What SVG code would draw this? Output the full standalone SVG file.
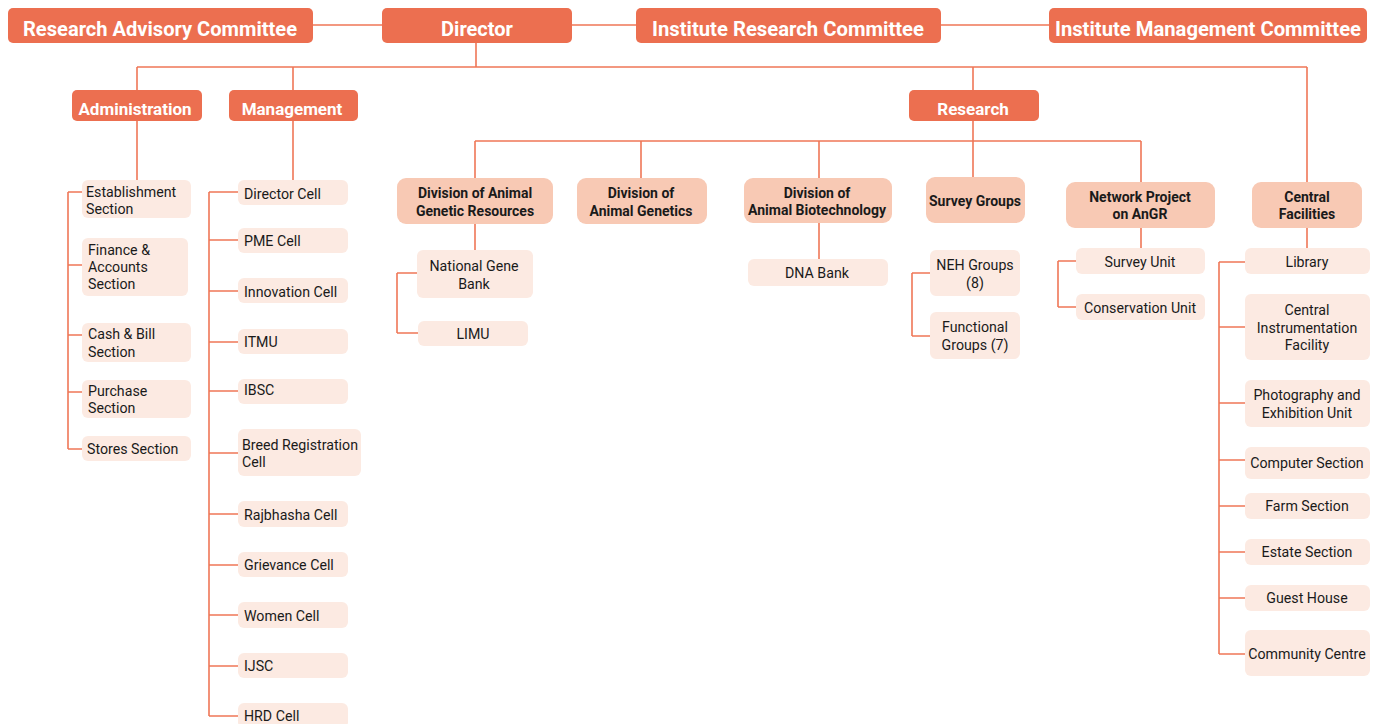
<svg xmlns="http://www.w3.org/2000/svg" width="1381" height="724" viewBox="0 0 1381 724">
<style>
.top rect{fill:#ec6f50}
.top text{fill:#fff;font-family:Roboto,"Liberation Sans",sans-serif;font-weight:bold;font-size:20px;text-anchor:middle}
.l2 rect{fill:#ec6f50}
.l2 text{fill:#fff;font-family:Roboto,"Liberation Sans",sans-serif;font-weight:bold;font-size:17px;text-anchor:middle}
.div rect{fill:#f8c9b4}
.div text{fill:#1a1a1a;font-family:Roboto,"Liberation Sans",sans-serif;font-weight:bold;font-size:14px;text-anchor:middle}
.leaf rect{fill:#fceae2}
.leaf text{fill:#1a1a1a;font-family:Roboto,"Liberation Sans",sans-serif;font-size:14.2px}
.c text{text-anchor:middle}
#connectors path{fill:none;stroke:#ef7757;stroke-width:1.6}
</style>
<g id="connectors">
<path d="M313 25H382M572 25H636M941 25H1049"/>
<path d="M476 43V67M137 67H1307M137 67V90M293 67V90M973 67V90M1307 67V182"/>
<path d="M137 121V180M68 192V449M68 192H82M68 265H82M68 335H82M68 392H82M68 449H82"/>
<path d="M293 121V180M209 192V716M209 192H238M209 240H238M209 291H238M209 342H238M209 391H238M209 453H238M209 514H238M209 565H238M209 615H238M209 666H238M209 716H238"/>
<path d="M973 121V178M475 141H1141M475 141V178M641 141V178M819 141V178M1141 141V182"/>
<path d="M475 224V250M397 273V333M397 273H417M397 333H418"/>
<path d="M819 223V259"/>
<path d="M912 273V336M912 273H930M912 336H930"/>
<path d="M1141 228V248M1058 261V307M1058 261H1076M1058 307H1076"/>
<path d="M1307 228V248M1219 262V654M1219 262H1245M1219 327H1245M1219 403H1245M1219 460H1245M1219 506H1245M1219 552H1245M1219 598H1245M1219 654H1245"/>
</g>

<g id="rac" class="top"><rect x="8" y="8" width="305" height="35" rx="5"/><text x="160" y="36" textLength="274" lengthAdjust="spacingAndGlyphs">Research Advisory Committee</text></g>
<g id="director" class="top"><rect x="382" y="8" width="190" height="35" rx="5"/><text x="477" y="36">Director</text></g>
<g id="irc" class="top"><rect x="636" y="8" width="305" height="35" rx="5"/><text x="788" y="36" textLength="272" lengthAdjust="spacingAndGlyphs">Institute Research Committee</text></g>
<g id="imc" class="top"><rect x="1049" y="8" width="318" height="35" rx="5"/><text x="1208" y="36" textLength="306" lengthAdjust="spacingAndGlyphs">Institute Management Committee</text></g>

<g id="administration" class="l2"><rect x="72" y="90" width="130" height="31" rx="5"/><text x="135" y="115">Administration</text></g>
<g id="management" class="l2"><rect x="229" y="90" width="129" height="31" rx="5"/><text x="292" y="115">Management</text></g>
<g id="research" class="l2"><rect x="909" y="90" width="130" height="31" rx="5"/><text x="973" y="115">Research</text></g>

<g id="establishment" class="leaf"><rect x="82" y="180" width="109" height="38" rx="6"/><text x="86" y="197">Establishment</text><text x="86" y="214">Section</text></g>
<g id="finance" class="leaf"><rect x="82" y="238" width="106" height="58" rx="6"/><text x="88" y="255">Finance &amp;</text><text x="88" y="272">Accounts</text><text x="88" y="289">Section</text></g>
<g id="cash" class="leaf"><rect x="82" y="323" width="109" height="39" rx="6"/><text x="88" y="339">Cash &amp; Bill</text><text x="88" y="357">Section</text></g>
<g id="purchase" class="leaf"><rect x="82" y="380" width="109" height="38" rx="6"/><text x="88" y="396">Purchase</text><text x="88" y="413">Section</text></g>
<g id="stores" class="leaf"><rect x="82" y="436" width="109" height="25" rx="6"/><text x="87" y="454">Stores Section</text></g>

<g id="director-cell" class="leaf"><rect x="238" y="180" width="110" height="25" rx="6"/><text x="244" y="199">Director Cell</text></g>
<g id="pme" class="leaf"><rect x="238" y="228" width="110" height="25" rx="6"/><text x="244" y="246">PME Cell</text></g>
<g id="innovation" class="leaf"><rect x="238" y="278" width="110" height="25" rx="6"/><text x="244" y="297">Innovation Cell</text></g>
<g id="itmu" class="leaf"><rect x="238" y="329" width="110" height="25" rx="6"/><text x="244" y="347">ITMU</text></g>
<g id="ibsc" class="leaf"><rect x="238" y="379" width="110" height="25" rx="6"/><text x="244" y="395">IBSC</text></g>
<g id="breed" class="leaf"><rect x="238" y="429" width="123" height="47" rx="6"/><text x="242" y="450" font-size="13">Breed Registration</text><text x="242" y="467" font-size="13">Cell</text></g>
<g id="rajbhasha" class="leaf"><rect x="238" y="501" width="110" height="26" rx="6"/><text x="244" y="520">Rajbhasha Cell</text></g>
<g id="grievance" class="leaf"><rect x="238" y="552" width="110" height="25" rx="6"/><text x="244" y="570">Grievance Cell</text></g>
<g id="women" class="leaf"><rect x="238" y="602" width="110" height="26" rx="6"/><text x="244" y="621">Women Cell</text></g>
<g id="ijsc" class="leaf"><rect x="238" y="653" width="110" height="25" rx="6"/><text x="244" y="671">IJSC</text></g>
<g id="hrd" class="leaf"><rect x="238" y="703" width="110" height="25" rx="6"/><text x="244" y="721">HRD Cell</text></g>

<g id="dagr" class="div"><rect x="397" y="178" width="156" height="46" rx="9"/><text x="475" y="198">Division of Animal</text><text x="475" y="216">Genetic Resources</text></g>
<g id="dag" class="div"><rect x="577" y="178" width="130" height="46" rx="9"/><text x="641" y="198">Division of</text><text x="641" y="216">Animal Genetics</text></g>
<g id="dab" class="div"><rect x="744" y="178" width="148" height="45" rx="9"/><text x="817" y="198">Division of</text><text x="817" y="215">Animal Biotechnology</text></g>
<g id="survey-groups" class="div"><rect x="926" y="177" width="99" height="46" rx="9"/><text x="975" y="206">Survey Groups</text></g>
<g id="network" class="div"><rect x="1066" y="182" width="149" height="46" rx="9"/><text x="1140" y="202">Network Project</text><text x="1140" y="219">on AnGR</text></g>
<g id="central" class="div"><rect x="1252" y="182" width="110" height="46" rx="9"/><text x="1307" y="202">Central</text><text x="1307" y="219">Facilities</text></g>

<g id="ngb" class="leaf c"><rect x="417" y="250" width="116" height="48" rx="6"/><text x="474" y="271">National Gene</text><text x="474" y="289">Bank</text></g>
<g id="limu" class="leaf c"><rect x="418" y="321" width="110" height="25" rx="6"/><text x="473" y="339">LIMU</text></g>
<g id="dna" class="leaf c"><rect x="748" y="259" width="140" height="27" rx="6"/><text x="817" y="278">DNA Bank</text></g>
<g id="neh" class="leaf c"><rect x="930" y="250" width="90" height="46" rx="6"/><text x="975" y="270">NEH Groups</text><text x="975" y="288">(8)</text></g>
<g id="functional" class="leaf c"><rect x="930" y="312" width="90" height="47" rx="6"/><text x="975" y="332">Functional</text><text x="975" y="350">Groups (7)</text></g>
<g id="survey-unit" class="leaf c"><rect x="1076" y="248" width="129" height="26" rx="6"/><text x="1140" y="267">Survey Unit</text></g>
<g id="conservation" class="leaf c"><rect x="1076" y="294" width="129" height="26" rx="6"/><text x="1140" y="313">Conservation Unit</text></g>

<g id="library" class="leaf c"><rect x="1245" y="248" width="125" height="26" rx="6"/><text x="1307" y="267">Library</text></g>
<g id="cif" class="leaf c"><rect x="1245" y="294" width="125" height="66" rx="6"/><text x="1307" y="315">Central</text><text x="1307" y="333">Instrumentation</text><text x="1307" y="350">Facility</text></g>
<g id="photo" class="leaf c"><rect x="1245" y="380" width="125" height="47" rx="6"/><text x="1307" y="400">Photography and</text><text x="1307" y="418">Exhibition Unit</text></g>
<g id="computer" class="leaf c"><rect x="1245" y="447" width="125" height="32" rx="6"/><text x="1307" y="468">Computer Section</text></g>
<g id="farm" class="leaf c"><rect x="1245" y="493" width="125" height="26" rx="6"/><text x="1307" y="511">Farm Section</text></g>
<g id="estate" class="leaf c"><rect x="1245" y="539" width="125" height="26" rx="6"/><text x="1307" y="557">Estate Section</text></g>
<g id="guest" class="leaf c"><rect x="1245" y="585" width="125" height="26" rx="6"/><text x="1307" y="603">Guest House</text></g>
<g id="community" class="leaf c"><rect x="1245" y="630" width="125" height="46" rx="6"/><text x="1307" y="659">Community Centre</text></g>
</svg>
